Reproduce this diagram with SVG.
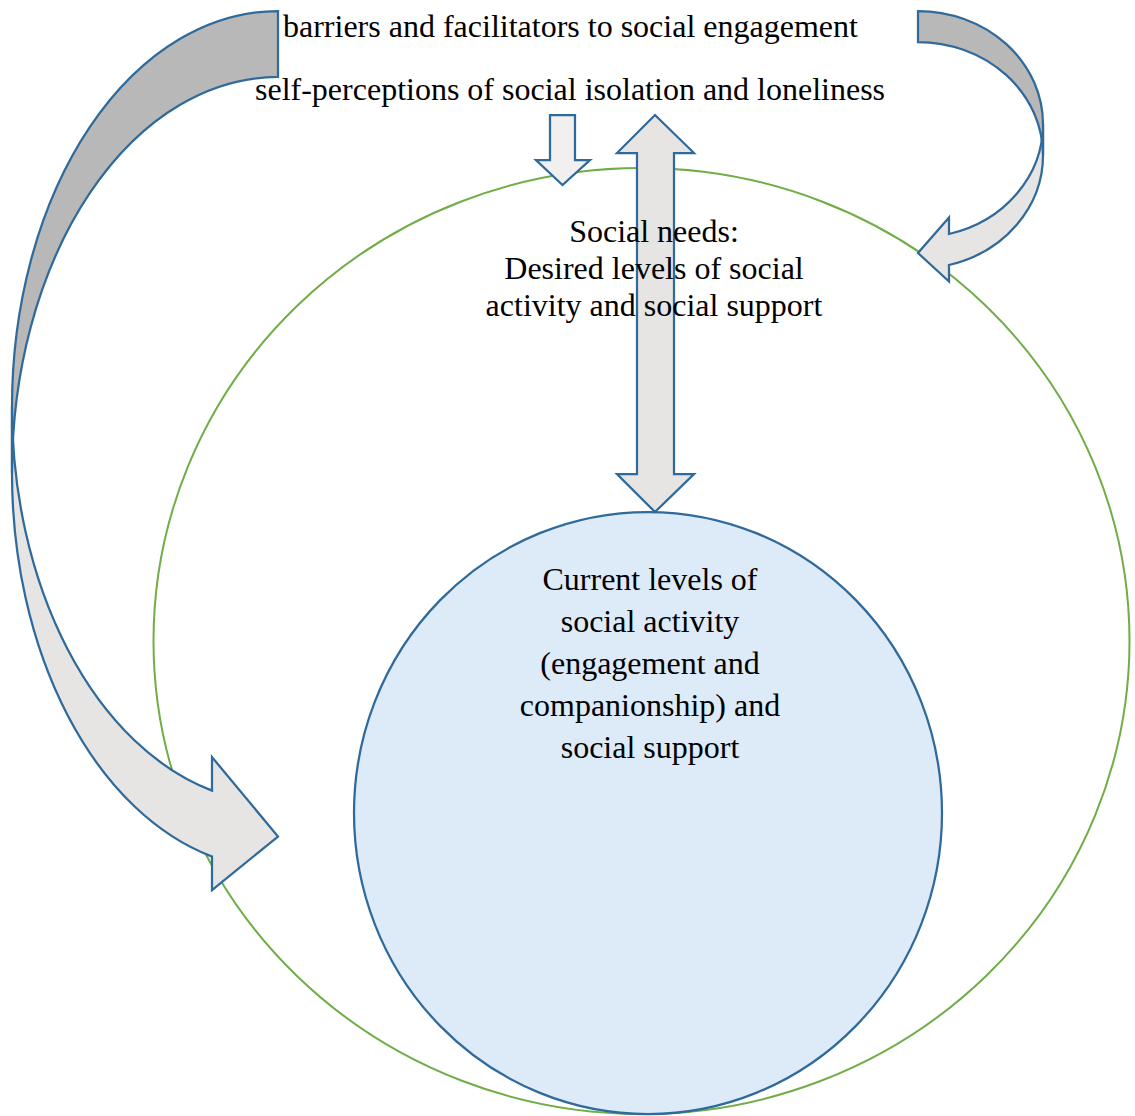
<svg xmlns="http://www.w3.org/2000/svg" width="1135" height="1116" viewBox="0 0 1135 1116">
<style>
.lbl{font-family:"Liberation Serif","Times New Roman",serif;font-size:32px;fill:#000}
.mid{text-anchor:middle}
.edge{stroke:#2f6a9b;stroke-width:2.25;stroke-linejoin:miter}
.dark{fill:#b8b8b8}
.light{fill:#e6e5e4}
.pale{fill:#f1f0ef}
</style>
<rect width="1135" height="1116" fill="#fff"/>
<g id="social-needs">
<ellipse cx="641.5" cy="641" rx="488" ry="473" fill="none" stroke="#70ad47" stroke-width="2"/>
</g>
<g id="current-levels">
<ellipse cx="648" cy="813" rx="294" ry="301" fill="#ddeaf7" class="edge"/>
</g>
<g id="connectors">
<g id="left-curved-arrow">
<path class="light edge" d="M12,407 A266,396 0 0 0 212,790.6 L212,757.1 L278,836.5 L212,890.1 L212,856.6 A266,396 0 0 1 12,473 Z"/>
<path class="dark edge" d="M278,11 A266,396 0 0 0 12,407 L12,473 A266,396 0 0 1 278,77 Z"/>
</g>
<g id="right-curved-arrow">
<path class="light edge" d="M1043,124.25 A125,113.25 0 0 1 949,234 L949,217.5 L918,253 L949,281.5 L949,265 A125,113.25 0 0 0 1043,155.25 Z"/>
<path class="dark edge" d="M918,11 A125,113.25 0 0 1 1043,124.25 L1043,155.25 A125,113.25 0 0 0 918,42 Z"/>
</g>
<polygon id="down-arrow" class="pale edge" points="550,115 575,115 575,160 590,160 562.5,185 536,160 550,160"/>
<polygon id="double-arrow" class="light edge" points="655,115 694,153 674,153 674,474 694,474 655,512 617,474 637,474 637,153 617,153"/>
</g>
<g id="label-barriers">
<text class="lbl" x="283" y="37">barriers and facilitators to social engagement</text>
</g>
<g id="label-self-perceptions">
<text class="lbl" x="255" y="100">self-perceptions of social isolation and loneliness</text>
</g>
<g id="label-social-needs">
<text class="lbl mid" x="654" y="242">Social needs:</text>
<text class="lbl mid" x="654" y="279">Desired levels of social</text>
<text class="lbl mid" x="654" y="316">activity and social support</text>
</g>
<g id="label-current-levels">
<text class="lbl mid" x="650" y="590">Current levels of</text>
<text class="lbl mid" x="650" y="632">social activity</text>
<text class="lbl mid" x="650" y="674">(engagement and</text>
<text class="lbl mid" x="650" y="716">companionship) and</text>
<text class="lbl mid" x="650" y="758">social support</text>
</g>
</svg>
